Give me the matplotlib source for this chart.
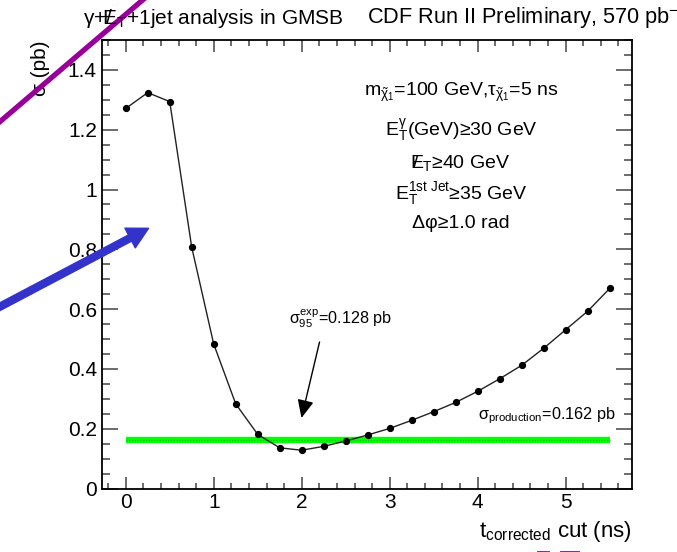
import matplotlib
matplotlib.use('Agg')
import matplotlib.pyplot as plt
from matplotlib.ticker import MultipleLocator
from matplotlib.lines import Line2D

plt.rcParams['font.family'] = ['Liberation Sans', 'DejaVu Sans']
plt.rcParams['mathtext.fontset'] = 'custom'
plt.rcParams['mathtext.rm'] = 'Liberation Sans'
plt.rcParams['mathtext.it'] = 'Liberation Sans'
plt.rcParams['mathtext.sf'] = 'Liberation Sans'
plt.rcParams['mathtext.bf'] = 'Liberation Sans:bold'

# --- data ---
t_cut = [0.0, 0.25, 0.5, 0.75, 1.0, 1.25, 1.5, 1.75, 2.0, 2.25, 2.5, 2.75,
         3.0, 3.25, 3.5, 3.75, 4.0, 4.25, 4.5, 4.75, 5.0, 5.25, 5.5]
sigma_95 = [1.271, 1.324, 1.294, 0.807, 0.483, 0.283, 0.181, 0.136, 0.128,
            0.141, 0.159, 0.179, 0.201, 0.228, 0.257, 0.288, 0.325, 0.367,
            0.412, 0.469, 0.531, 0.593, 0.669]
sigma_prod = 0.162
prod_range = [0.0, 5.5]

cut_lines = [r'$\mathrm{m}_{\tilde{\chi}_1}$=100 GeV,$\tau_{\tilde{\chi}_1}$=5 ns',
             r'$\mathrm{E}_\mathrm{T}^{\gamma}$(GeV)≥30 GeV',
             r'$/\!\!\!\mathrm{E}_\mathrm{T}$≥40 GeV',
             r'$\mathrm{E}_\mathrm{T}^{\mathrm{1st\ Jet}}$≥35 GeV',
             'Δφ≥1.0 rad']

W, H = 677, 552


def fpx(x, y):
    # figure pixel (from top-left) -> figure fraction
    return x / W, 1 - y / H


fig = plt.figure(figsize=(W / 100, H / 100), dpi=100)
ax = fig.add_axes([101.7 / W, (H - 488.5) / H, (632.3 - 101.7) / W, (488.5 - 40) / H])

# curve + production cross section
ax.plot(prod_range, [sigma_prod, sigma_prod], color='#00ff00', lw=4.6, solid_capstyle='butt', zorder=2)
ax.plot(prod_range, [sigma_prod, sigma_prod], color='#22bb22', lw=0.8, ls=(0, (1, 1.5)), zorder=2)
ax.plot(t_cut, sigma_95, color='#222222', lw=1.0, marker='o', ms=4.2,
        mfc='black', mec='black', zorder=3)

ax.set_xlim(-0.273, 5.757)
ax.set_ylim(0, 1.5)
ax.xaxis.set_major_locator(MultipleLocator(1))
ax.xaxis.set_minor_locator(MultipleLocator(0.2))
ax.yaxis.set_minor_locator(MultipleLocator(0.05))
ax.set_yticks([0, 0.2, 0.4, 0.6, 0.8, 1.0, 1.2, 1.4])
ax.set_yticklabels(['0', '0.2', '0.4', '0.6', '0.8', '1', '1.2', '1.4'])

ax.tick_params(which='both', direction='in', top=True, right=True, color='#444444', width=1.1)
ax.tick_params(axis='x', which='major', length=8.6, labelsize=15, pad=3)
ax.tick_params(axis='x', which='minor', length=4.2)
ax.tick_params(axis='y', which='major', length=11.5, labelsize=15, pad=3.5)
ax.tick_params(axis='y', which='minor', length=5.8)
for s in ax.spines.values():
    s.set_linewidth(1.3)

ax.set_ylabel('σ (pb)', fontsize=15, loc='top')
ax.yaxis.set_label_coords((50 - 101.7) / (632.3 - 101.7), 1.0)

fig.text(*fpx(632, 537), r't$_{\mathrm{corrected}}$ cut (ns)', fontsize=16,
         ha='right', va='baseline')

# title (two pieces, as in the original)
fig.text(*fpx(83, 24), r'γ+$/\!\!\!\mathrm{E}_\mathrm{T}$+1jet analysis in GMSB',
         fontsize=15, ha='left', va='baseline')
fig.text(*fpx(367, 24), r'CDF Run II Preliminary, 570 pb$^{-1}$',
         fontsize=15.7, ha='left', va='baseline')

# cuts box
baselines = [96, 136, 168, 199, 228]
for txt, yb in zip(cut_lines, baselines):
    fig.text(*fpx(461, yb), txt, fontsize=14, ha='center', va='baseline')

# sigma95 arrow + label
ax.annotate('', xy=(1.99, 0.227), xytext=(2.21, 0.499),
            arrowprops=dict(arrowstyle='-|>,head_length=0.55,head_width=0.25',
                            mutation_scale=20, color='black', lw=1.0))
fig.text(*fpx(289, 324), r'$\sigma_{95}^{\mathrm{exp}}$=0.128 pb', fontsize=11.6,
         ha='left', va='baseline')
fig.text(*fpx(616, 419), r'$\sigma_{\mathrm{production}}$=0.162 pb', fontsize=11.7,
         ha='right', va='baseline')

# overlaid slide annotations (blue arrow, purple stroke)
fig.add_artist(Line2D([145 / W, -4 / W], [1 - (-2) / H, 1 - 125 / H],
                      transform=fig.transFigure, color='#990099', lw=3.8))
fig.patches.append(matplotlib.patches.FancyArrowPatch(
    (-12, H - 313), (151, H - 227), transform=None, figure=fig,
    arrowstyle='simple,tail_width=5,head_width=16,head_length=15',
    mutation_scale=1, color='#3333cc'))
fig.add_artist(Line2D([538 / W, 548 / W], [0.5 / H, 0.5 / H],
                      transform=fig.transFigure, color='#990099', lw=2))
fig.add_artist(Line2D([561 / W, 578 / W], [0.5 / H, 0.5 / H],
                      transform=fig.transFigure, color='#990099', lw=2))

fig.savefig('out.png', dpi=100)
